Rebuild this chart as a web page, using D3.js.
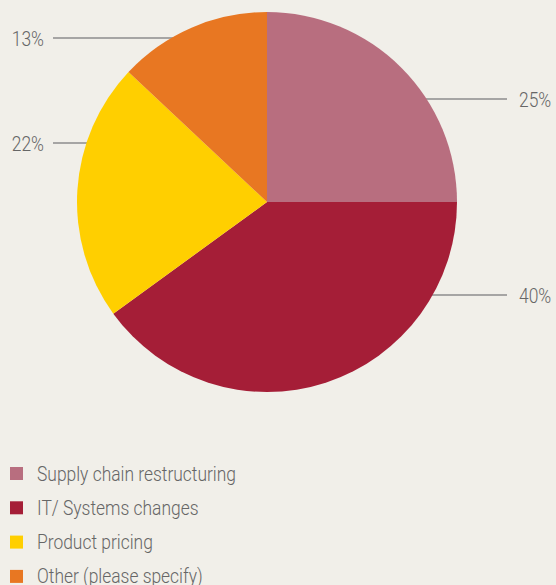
<!DOCTYPE html>
<html>
<head>
<meta charset="utf-8">
<script src="https://cdn.jsdelivr.net/npm/d3@7"></script>
<style>
  html, body { margin: 0; padding: 0; background: #f1efe9; }
  svg { display: block; }
  text { font-family: "Roboto", "Liberation Sans", sans-serif; font-weight: 300; fill: #666666; }
</style>
</head>
<body>
<svg id="chart" width="556" height="585"></svg>
<script>
// Survey responses by category
const categories = ["Supply chain restructuring", "IT/ Systems changes", "Product pricing", "Other (please specify)"];
const values = [25, 40, 22, 13];
const labels = ["25%", "40%", "22%", "13%"];
const colors = ["#b86e7f", "#a51e37", "#ffcf00", "#e87722"];

const W = 556, H = 585;
const cx = 267, cy = 202, R = 190;
const squeeze = 0.83; // horizontal compression to get a condensed face

// Leader-line layout: vertical offset from the centre for each slice label
const leaderY = [-103, 93, -59, -164];
const rightX = 507, leftX = 53;

const svg = d3.select("#chart");

// Places condensed text anchored at (x, y)
function condensed(sel, x, y) {
  return sel.attr("transform", `translate(${x},${y}) scale(${squeeze},1)`);
}

const pie = d3.pie().sort(null).value(d => d)(values);
const arc = d3.arc().innerRadius(0).outerRadius(R);

const g = svg.append("g").attr("transform", `translate(${cx},${cy})`);

// Leader lines drawn first so the slices sit on top
pie.forEach((p, i) => {
  const mid = (p.startAngle + p.endAngle) / 2;
  const right = Math.sin(mid) >= 0;
  const dy = leaderY[i];
  const edge = Math.sqrt(R * R - dy * dy);
  const x1 = right ? edge - 2 : -edge + 2;
  const x2 = right ? rightX - cx : leftX - cx;
  g.append("line")
    .attr("x1", x1).attr("x2", x2)
    .attr("y1", dy).attr("y2", dy)
    .attr("stroke", "#8c8c8c").attr("stroke-width", 1.5);
  g.append("text")
    .call(condensed, right ? x2 + 12 : x2 - 9, dy + 7.5)
    .attr("text-anchor", right ? "start" : "end")
    .attr("font-size", 21)
    .text(labels[i]);
});

g.selectAll("path.slice")
  .data(pie)
  .join("path")
  .attr("class", "slice")
  .attr("d", arc)
  .attr("fill", (d, i) => colors[i]);

// Legend
const legend = svg.append("g").attr("transform", "translate(10,467)");
const row = legend.selectAll("g")
  .data(categories)
  .join("g")
  .attr("transform", (d, i) => `translate(0,${i * 34.3})`);
row.append("rect")
  .attr("width", 13).attr("height", 13)
  .attr("fill", (d, i) => colors[i]);
row.append("text")
  .call(condensed, 27, 13.5)
  .attr("font-size", 21)
  .text(d => d);
</script>
</body>
</html>
